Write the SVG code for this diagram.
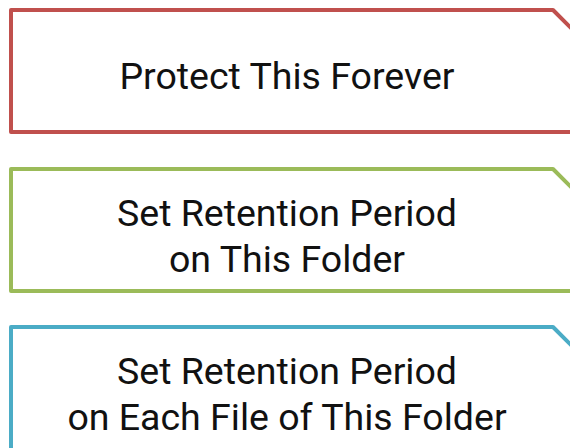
<svg xmlns="http://www.w3.org/2000/svg" width="570" height="448" viewBox="0 0 570 448">
  <style>
    .frame { fill: #ffffff; stroke-width: 4; stroke-linejoin: round; }
    .label { font-family: Roboto, "Liberation Sans", sans-serif; font-size: 37.5px; fill: #111111; text-anchor: middle; }
  </style>
  <rect width="570" height="448" fill="#ffffff"/>

  <!-- Each frame has a bevelled top-right corner and runs past the right edge -->
  <g id="protect-forever">
    <path class="frame" stroke="#c0504d" d="M 620 132 H 11 V 10 H 553 L 620 77"/>
    <text class="label" x="287" y="89">Protect This Forever</text>
  </g>

  <g id="retention-folder">
    <path class="frame" stroke="#9bbb59" d="M 620 291 H 11 V 169 H 553 L 620 236"/>
    <text class="label" x="287" y="226">Set Retention Period</text>
    <text class="label" x="287" y="272">on This Folder</text>
  </g>

  <g id="retention-each-file">
    <path class="frame" stroke="#4bacc6" d="M 620 470 H 11 V 327 H 553 L 620 394"/>
    <text class="label" x="287" y="384">Set Retention Period</text>
    <text class="label" x="287" y="430">on Each File of This Folder</text>
  </g>

  <g id="connectors"></g>
</svg>
